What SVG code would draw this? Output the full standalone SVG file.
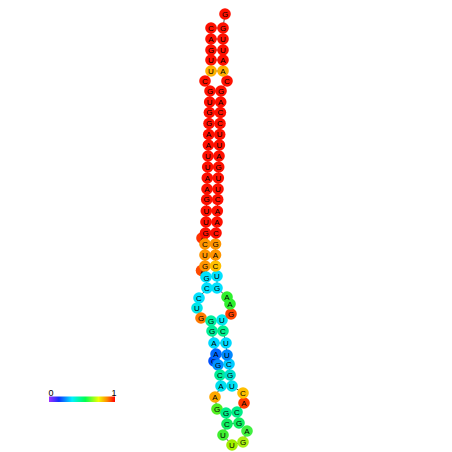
<svg xmlns="http://www.w3.org/2000/svg" width="452" height="452" viewBox="0 0 452 452">
<defs>
<style>
circle{r:5.8px;}
.nt circle{stroke:none;}
text{font-family:"Liberation Sans",Arial,sans-serif;font-size:8px;text-anchor:middle;dominant-baseline:central;fill:#000;}
.lab{font-size:9px;dominant-baseline:auto;}
#conn line,#conn polyline{stroke:#000;stroke-width:0.7;fill:none;}
.r circle{fill:#ff1000}.gd circle{fill:#ffb000}.o circle{fill:#ff9500}.cy circle{fill:#00e1ff}
</style>
<linearGradient id="cb" x1="0" x2="1" y1="0" y2="0">
<stop offset="0" stop-color="#a030ff"/>
<stop offset="0.15" stop-color="#1030ff"/>
<stop offset="0.35" stop-color="#00f0ff"/>
<stop offset="0.55" stop-color="#00ff50"/>
<stop offset="0.75" stop-color="#f0ff00"/>
<stop offset="0.88" stop-color="#ff8800"/>
<stop offset="1" stop-color="#ff0000"/>
</linearGradient>
</defs>
<rect width="452" height="452" fill="#fff"/>
<g id="conn">
<polyline points="211,28 211,39 211,50 211,60 211,71 205,81 210,91 209.7,102 209.4,112.5 209,123.5 208.7,134.5 208.4,145 208,156 207.7,167 207.3,178 207,189 206.7,199.5 206.3,211 206,222 205.5,233 202,238 205,244 205,255 205,266 202,271 206,277 207,288 199,298 197,308 201,318 211,321 212,331 214,343 216,354 214,361 218,365 220,375 221,386 215,397 217,409 226,413 227,424 223,435 232,445 243,442 247,431 239,423 237,412 244,403 243,393 232,386 230,375 229,364 227,355 226,343 223,331 222,320 231,314 230,304 227,297 217,288 217,276 215.5,266 215.5,255 215.5,244 216,233 217,222 217.3,211 217.7,199.5 218,189 218.3,178 218.7,167 219,156 219.4,145 219.7,134.5 220,123.5 220.4,112.5 220.7,102 221,91 227,81 223,71 223,60 223,50 223,39 223,28 225,14"/>
<line x1="211" y1="28" x2="223" y2="28"/><line x1="211" y1="39" x2="223" y2="39"/><line x1="211" y1="50" x2="223" y2="50"/><line x1="211" y1="60" x2="223" y2="60"/><line x1="211" y1="71" x2="223" y2="71"/>
<line x1="210" y1="91" x2="221" y2="91"/><line x1="209.7" y1="102" x2="220.7" y2="102"/><line x1="209.4" y1="112.5" x2="220.4" y2="112.5"/><line x1="209" y1="123.5" x2="220" y2="123.5"/><line x1="208.7" y1="134.5" x2="219.7" y2="134.5"/><line x1="208.4" y1="145" x2="219.4" y2="145"/><line x1="208" y1="156" x2="219" y2="156"/><line x1="207.7" y1="167" x2="218.7" y2="167"/><line x1="207.3" y1="178" x2="218.3" y2="178"/><line x1="207" y1="189" x2="218" y2="189"/><line x1="206.7" y1="199.5" x2="217.7" y2="199.5"/><line x1="206.3" y1="211" x2="217.3" y2="211"/><line x1="206" y1="222" x2="217" y2="222"/><line x1="205.5" y1="233" x2="216" y2="233"/>
<line x1="205" y1="244" x2="215.5" y2="244"/><line x1="205" y1="255" x2="215.5" y2="255"/><line x1="205" y1="266" x2="215.5" y2="266"/><line x1="206" y1="277" x2="217" y2="276"/><line x1="207" y1="288" x2="217" y2="288"/>
<line x1="211" y1="321" x2="222" y2="320"/><line x1="212" y1="331" x2="223" y2="331"/><line x1="214" y1="343" x2="226" y2="343"/><line x1="216" y1="354" x2="227" y2="355"/><line x1="218" y1="365" x2="229" y2="364"/><line x1="220" y1="375" x2="230" y2="375"/><line x1="221" y1="386" x2="232" y2="386"/>
<line x1="226" y1="413" x2="237" y2="412"/><line x1="227" y1="424" x2="239" y2="423"/>
</g>
<g id="nodes">
<g id="n21" style="fill:#ff3000"><circle cx="202" cy="238" fill="#ff3000"/><text x="203" y="238">A</text></g>
<g id="n25"><circle cx="201.5" cy="270.5" fill="#ff4a00"/><text x="203" y="271.5">A</text></g>
<g id="n35"><circle cx="214" cy="361" fill="#0050ff"/><text x="214" y="361">G</text></g>
<g id="n1" class="r"><circle cx="211" cy="28"/><text x="211" y="28">C</text></g>
<g id="n2" class="r"><circle cx="211" cy="39"/><text x="211" y="39">A</text></g>
<g id="n3" class="r"><circle cx="211" cy="50"/><text x="211" y="50">G</text></g>
<g id="n4" class="r"><circle cx="211" cy="60"/><text x="211" y="60">U</text></g>
<g id="n5" class="gd"><circle cx="211" cy="71"/><text x="211" y="71">U</text></g>
<g id="n6" class="r"><circle cx="205" cy="81"/><text x="205" y="81">C</text></g>
<g id="n7" class="r"><circle cx="210" cy="91"/><text x="210" y="91">G</text></g>
<g id="n8" class="r"><circle cx="209.7" cy="102"/><text x="209.7" y="102">U</text></g>
<g id="n9" class="r"><circle cx="209.4" cy="112.5"/><text x="209.4" y="112.5">G</text></g>
<g id="n10" class="r"><circle cx="209" cy="123.5"/><text x="209" y="123.5">G</text></g>
<g id="n11" class="r"><circle cx="208.7" cy="134.5"/><text x="208.7" y="134.5">A</text></g>
<g id="n12" class="r"><circle cx="208.4" cy="145"/><text x="208.4" y="145">A</text></g>
<g id="n13" class="r"><circle cx="208" cy="156"/><text x="208" y="156">U</text></g>
<g id="n14" class="r"><circle cx="207.7" cy="167"/><text x="207.7" y="167">U</text></g>
<g id="n15" class="r"><circle cx="207.3" cy="178"/><text x="207.3" y="178">A</text></g>
<g id="n16" class="r"><circle cx="207" cy="189"/><text x="207" y="189">A</text></g>
<g id="n17" class="r"><circle cx="206.7" cy="199.5"/><text x="206.7" y="199.5">G</text></g>
<g id="n18" class="r"><circle cx="206.3" cy="211"/><text x="206.3" y="211">U</text></g>
<g id="n19" class="r"><circle cx="206" cy="222"/><text x="206" y="222">U</text></g>
<g id="n20" class="r"><circle cx="205.5" cy="233"/><text x="205.5" y="233">G</text></g>
<g id="n22" class="o"><circle cx="205" cy="244"/><text x="205" y="244">C</text></g>
<g id="n23" class="o"><circle cx="205" cy="255"/><text x="205" y="255">U</text></g>
<g id="n24" class="o"><circle cx="205" cy="266"/><text x="205" y="266">G</text></g>
<g id="n26" class="cy"><circle cx="206" cy="277"/><text x="206.5" y="278">G</text></g>
<g id="n27" class="cy"><circle cx="207" cy="288"/><text x="207" y="288">C</text></g>
<g id="n28" class="cy"><circle cx="199" cy="298"/><text x="199" y="298">C</text></g>
<g id="n29"><circle cx="197" cy="308" fill="#00e6ea"/><text x="197" y="308">U</text></g>
<g id="n30"><circle cx="201" cy="318" fill="#ff7a00"/><text x="201" y="318">G</text></g>
<g id="n31"><circle cx="211" cy="321" fill="#00f0a0"/><text x="211" y="321">G</text></g>
<g id="n32"><circle cx="212" cy="331" fill="#00ee99"/><text x="212" y="331">G</text></g>
<g id="n33"><circle cx="214" cy="343" fill="#00daff"/><text x="214" y="343">A</text></g>
<g id="n34"><circle cx="216" cy="354" fill="#0068ff"/><text x="216" y="354">A</text></g>
<g id="n36"><circle cx="218" cy="365" fill="#0090ff"/><text x="218" y="365">G</text></g>
<g id="n37"><circle cx="220" cy="375" fill="#00ee99"/><text x="220" y="375">C</text></g>
<g id="n38"><circle cx="221" cy="386" fill="#00e0f0"/><text x="221" y="386">A</text></g>
<g id="n39"><circle cx="215" cy="397" fill="#ffa800"/><text x="215" y="397">A</text></g>
<g id="n40"><circle cx="217" cy="409" fill="#50ee20"/><text x="217" y="409">G</text></g>
<g id="n41"><circle cx="226" cy="413" fill="#00ee88"/><text x="226" y="413">G</text></g>
<g id="n42"><circle cx="227" cy="424" fill="#10ee60"/><text x="227" y="424">C</text></g>
<g id="n43"><circle cx="223" cy="435" fill="#40ee30"/><text x="223" y="435">U</text></g>
<g id="n44"><circle cx="232" cy="445" fill="#a0ee00"/><text x="232" y="445">U</text></g>
<g id="n45"><circle cx="243" cy="442" fill="#a8ee10"/><text x="243" y="442">G</text></g>
<g id="n46"><circle cx="247" cy="431" fill="#40f040"/><text x="247" y="431">A</text></g>
<g id="n47"><circle cx="239" cy="423" fill="#10ee60"/><text x="239" y="423">G</text></g>
<g id="n48"><circle cx="237" cy="412" fill="#00ee88"/><text x="237" y="412">C</text></g>
<g id="n49"><circle cx="244" cy="403" fill="#ff3a00"/><text x="244" y="403">A</text></g>
<g id="n50"><circle cx="243" cy="393" fill="#ffbf00"/><text x="243" y="393">C</text></g>
<g id="n51"><circle cx="232" cy="386" fill="#00e0f0"/><text x="232" y="386">U</text></g>
<g id="n52"><circle cx="230" cy="375" fill="#00e0d0"/><text x="230" y="375">G</text></g>
<g id="n53"><circle cx="229" cy="364" fill="#00ccff"/><text x="229" y="364">C</text></g>
<g id="n54"><circle cx="227" cy="355" fill="#0088ff"/><text x="227" y="355">U</text></g>
<g id="n55"><circle cx="226" cy="343" fill="#00daff"/><text x="226" y="343">U</text></g>
<g id="n56"><circle cx="223" cy="331" fill="#00f090"/><text x="223" y="331">C</text></g>
<g id="n57"><circle cx="222" cy="320" fill="#00e8f0"/><text x="222" y="320">U</text></g>
<g id="n58"><circle cx="231" cy="314" fill="#ff4400"/><text x="231" y="314">G</text></g>
<g id="n59"><circle cx="230" cy="304" fill="#2ef02e"/><text x="230" y="304">A</text></g>
<g id="n60"><circle cx="227" cy="297" fill="#2ef02e"/><text x="227" y="297">A</text></g>
<g id="n61" class="cy"><circle cx="217" cy="288"/><text x="217" y="288">G</text></g>
<g id="n62" class="cy"><circle cx="217" cy="276"/><text x="217" y="276">U</text></g>
<g id="n63"><circle cx="215.5" cy="266" fill="#ffc000"/><text x="215.5" y="266">C</text></g>
<g id="n64" class="o"><circle cx="215.5" cy="255"/><text x="215.5" y="255">A</text></g>
<g id="n65" class="o"><circle cx="215.5" cy="244"/><text x="215.5" y="244">G</text></g>
<g id="n66" class="r"><circle cx="216" cy="233"/><text x="216" y="233">C</text></g>
<g id="n67" class="r"><circle cx="217" cy="222"/><text x="217" y="222">A</text></g>
<g id="n68" class="r"><circle cx="217.3" cy="211"/><text x="217.3" y="211">A</text></g>
<g id="n69" class="r"><circle cx="217.7" cy="199.5"/><text x="217.7" y="199.5">C</text></g>
<g id="n70" class="r"><circle cx="218" cy="189"/><text x="218" y="189">U</text></g>
<g id="n71" class="r"><circle cx="218.3" cy="178"/><text x="218.3" y="178">U</text></g>
<g id="n72" class="r"><circle cx="218.7" cy="167"/><text x="218.7" y="167">G</text></g>
<g id="n73" class="r"><circle cx="219" cy="156"/><text x="219" y="156">A</text></g>
<g id="n74" class="r"><circle cx="219.4" cy="145"/><text x="219.4" y="145">U</text></g>
<g id="n75" class="r"><circle cx="219.7" cy="134.5"/><text x="219.7" y="134.5">U</text></g>
<g id="n76" class="r"><circle cx="220" cy="123.5"/><text x="220" y="123.5">C</text></g>
<g id="n77" class="r"><circle cx="220.4" cy="112.5"/><text x="220.4" y="112.5">C</text></g>
<g id="n78" class="r"><circle cx="220.7" cy="102"/><text x="220.7" y="102">A</text></g>
<g id="n79" class="r"><circle cx="221" cy="91"/><text x="221" y="91">G</text></g>
<g id="n80" class="r"><circle cx="227" cy="81"/><text x="227" y="81">C</text></g>
<g id="n81" class="gd"><circle cx="223" cy="71"/><text x="223" y="71">A</text></g>
<g id="n82" class="r"><circle cx="223" cy="60"/><text x="223" y="60">A</text></g>
<g id="n83" class="r"><circle cx="223" cy="50"/><text x="223" y="50">U</text></g>
<g id="n84" class="r"><circle cx="223" cy="39"/><text x="223" y="39">U</text></g>
<g id="n85" class="r"><circle cx="223" cy="28"/><text x="223" y="28">G</text></g>
<g id="n86" class="r"><circle cx="225" cy="14"/><text x="225" y="14">G</text></g>
</g>
<g id="colorbar">
<rect x="49" y="396.5" width="66" height="5.5" fill="url(#cb)"/>
<text class="lab" x="51" y="396">0</text>
<text class="lab" x="114" y="396">1</text>
</g>
</svg>
